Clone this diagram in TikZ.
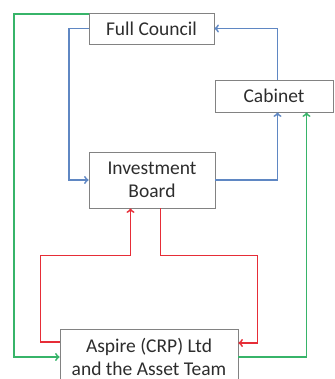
\documentclass[tikz,border=0pt]{standalone}
\usepackage{fontspec}
\setmainfont{Carlito}
\usetikzlibrary{arrows}

\definecolor{bluelink}{RGB}{95,135,195}
\definecolor{greenlink}{RGB}{55,180,105}
\definecolor{redlink}{RGB}{230,45,55}
\definecolor{boxline}{RGB}{130,130,130}
\definecolor{boxtext}{RGB}{45,45,45}

\begin{document}
\begin{tikzpicture} [x=1pt, y=-1pt, align=center,
	box/.style={draw=boxline, line width=0.8pt, fill=white, text=boxtext, inner sep=0pt,
		font=\fontsize{19.5}{23}\selectfont},
	blue link/.style={->, draw=bluelink, line width=1.8pt},
	green link/.style={->, draw=greenlink, line width=1.8pt},
	red link/.style={->, draw=redlink, line width=1.8pt}]
\useasboundingbox (0, 0) rectangle (334, 379);

\path (151.5, 28.5) node[box, minimum width=125pt, minimum height=31pt] (fc) {Full Council}
	  (274, 96) node[box, minimum width=118pt, minimum height=32pt] (cab) {Cabinet}
	  (152, 180) node[box, minimum width=126pt, minimum height=56pt] (ib) {Investment\\Board}
	  (149, 357) node[box, minimum width=178pt, minimum height=55pt] (asp) {Aspire (CRP) Ltd\\and the Asset Team};

\draw[blue link] (fc.west) -- ++(-19.5, 0) |- (ib.west);
\draw[blue link] (ib.east) -| ([xshift=3.5pt]cab.south);
\draw[blue link] ([xshift=3.5pt]cab.north) |- (fc.east);

\draw[green link] ([yshift=-1.5pt]fc.north west) -- ++(-74.5, 0) |- (asp.west);
\draw[green link] (asp.east) -| ([xshift=32.5pt]cab.south);

\draw[red link] ([yshift=15pt]asp.west) -| (40.5, 255.5) -| ([xshift=-21.5pt]ib.south);
\draw[red link] ([xshift=8.5pt]ib.south) |- (257.5, 255.5) |- ([yshift=14pt]asp.east);
\end{tikzpicture}
\end{document}
